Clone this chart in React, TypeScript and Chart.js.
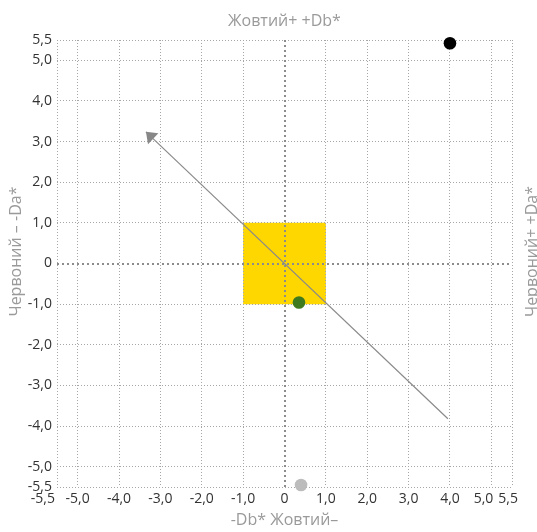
import React, { useEffect, useRef } from 'react';
import { Chart, registerables } from 'chart.js';

Chart.register(...registerables);

const tickValues = [-5.5, -5, -4, -3, -2, -1, 0, 1, 2, 3, 4, 5, 5.5];
const tickLabels = ['-5,5', '-5,0', '-4,0', '-3,0', '-2,0', '-1,0', '0', '1,0', '2,0', '3,0', '4,0', '5,0', '5,5'];

const squareX = [-1, -1, 1, 1, -1];
const squareY = [-1, 1, 1, -1, -1];

const arrowX = [3.95, -3.35];
const arrowY = [-3.82, 3.24];

const pointX = [4.0, 0.35, 0.4];
const pointY = [5.42, -0.96, -5.45];
const pointColors = ['#000000', '#3f7a1e', '#bcbcbc'];

const titleTop = 'Жовтий+ +Db*';
const titleBottom = '-Db* Жовтий–';
const titleLeft = 'Червоний – -Da*';
const titleRight = 'Червоний+ +Da*';

const FONT = '"Open Sans", "DejaVu Sans", sans-serif';
const GRID = '#a6a6a6';
const ZERO = '#8c8c8c';
const TITLE = '#9a9a9a';
const TICK = '#333333';

const zip = (xs: number[], ys: number[]) => xs.map((x, i) => ({ x, y: ys[i] }));

const overlayPlugin = {
  id: 'overlay',
  afterDatasetDraw(chart: any, args: any) {
    if (args.index !== 0) return;
    const { ctx, chartArea } = chart;
    const xs = chart.scales.x;
    const ys = chart.scales.y;
    // grid goes over the yellow square
    xs.drawGrid(chartArea);
    ys.drawGrid(chartArea);
    // zero lines
    ctx.save();
    ctx.strokeStyle = ZERO;
    ctx.lineWidth = 2;
    ctx.setLineDash([2, 3]);
    const x0 = Math.round(xs.getPixelForValue(0));
    const y0 = Math.round(ys.getPixelForValue(0));
    ctx.beginPath();
    ctx.moveTo(x0, chartArea.top);
    ctx.lineTo(x0, chartArea.bottom);
    ctx.moveTo(chartArea.left, y0);
    ctx.lineTo(chartArea.right, y0);
    ctx.stroke();
    ctx.restore();
  },
  afterDatasetsDraw(chart: any) {
    const { ctx } = chart;
    const meta = chart.getDatasetMeta(1);
    const n = meta.data.length;
    if (n < 2) return;
    const tip = meta.data[n - 1];
    const prev = meta.data[n - 2];
    const dx = tip.x - prev.x;
    const dy = tip.y - prev.y;
    const len = Math.hypot(dx, dy);
    const ux = dx / len;
    const uy = dy / len;
    const back = 10;
    const half = 7.5;
    const bx = tip.x - ux * back;
    const by = tip.y - uy * back;
    ctx.save();
    ctx.fillStyle = '#878787';
    ctx.beginPath();
    ctx.moveTo(tip.x, tip.y);
    ctx.lineTo(bx - uy * half, by + ux * half);
    ctx.lineTo(bx + uy * half, by - ux * half);
    ctx.closePath();
    ctx.fill();
    ctx.restore();
  },
  afterDraw(chart: any) {
    const { ctx, chartArea } = chart;
    const xs = chart.scales.x;
    ctx.save();
    // x tick labels
    ctx.fillStyle = TICK;
    ctx.font = `14px ${FONT}`;
    ctx.textBaseline = 'middle';
    const last = tickValues.length - 1;
    tickValues.forEach((v, i) => {
      const px = xs.getPixelForValue(v);
      let align: CanvasTextAlign = 'center';
      let off = 0;
      if (i === 0) { align = 'right'; off = -2; }
      else if (i === last) { align = 'right'; off = 6; }
      else if (i === last - 1) { align = 'right'; off = 2; }
      ctx.textAlign = align;
      ctx.fillText(tickLabels[i], px + off, chartArea.bottom + 12);
    });
    // titles
    ctx.fillStyle = TITLE;
    ctx.font = `16px ${FONT}`;
    ctx.textAlign = 'center';
    ctx.textBaseline = 'middle';
    const cx = (chartArea.left + chartArea.right) / 2;
    const cy = (chartArea.top + chartArea.bottom) / 2;
    ctx.fillText(titleTop, cx, 21);
    ctx.fillText(titleBottom, cx, 520);
    ctx.save();
    ctx.translate(16, cy - 12);
    ctx.rotate(-Math.PI / 2);
    ctx.fillText(titleLeft, 0, 0);
    ctx.restore();
    ctx.save();
    ctx.translate(532, cy - 12);
    ctx.rotate(-Math.PI / 2);
    ctx.fillText(titleRight, 0, 0);
    ctx.restore();
    ctx.restore();
  },
};

export default function App() {
  const ref = useRef<HTMLCanvasElement | null>(null);

  useEffect(() => {
    if (!ref.current) return;
    const gridColor = (c: any) => (c.tick && c.tick.value === 0 ? 'rgba(0,0,0,0)' : GRID);
    const chart = new Chart(ref.current, {
      type: 'scatter',
      data: {
        datasets: [
          {
            data: zip(squareX, squareY),
            showLine: true,
            fill: 'shape',
            backgroundColor: '#FFD700',
            borderWidth: 0,
            pointRadius: 0,
            order: 3,
          } as any,
          {
            data: zip(arrowX, arrowY),
            showLine: true,
            borderColor: '#8a8a8a',
            borderWidth: 1.2,
            pointRadius: 0,
            order: 2,
            clip: false,
          } as any,
          {
            data: zip(pointX, pointY),
            pointBackgroundColor: pointColors,
            pointBorderWidth: 0,
            pointRadius: 6.3,
            order: 1,
            clip: false,
          } as any,
        ],
      },
      options: {
        animation: false,
        responsive: false,
        devicePixelRatio: 1,
        layout: { padding: { top: 40, right: 25, left: 0, bottom: 0 } },
        plugins: { legend: { display: false }, tooltip: { enabled: false } },
        scales: {
          x: {
            type: 'linear',
            min: -5.5,
            max: 5.5,
            afterBuildTicks: (s: any) => { s.ticks = tickValues.map((value) => ({ value })); },
            afterFit: (s: any) => { s.height = 45; },
            ticks: { display: false },
            grid: { color: gridColor, lineWidth: 1, drawTicks: false },
            border: { display: false, dash: [1, 2] },
          },
          y: {
            type: 'linear',
            min: -5.5,
            max: 5.5,
            afterBuildTicks: (s: any) => { s.ticks = tickValues.map((value) => ({ value })); },
            afterFit: (s: any) => { s.width = 57; },
            ticks: {
              autoSkip: false,
              padding: 5,
              color: TICK,
              font: { family: FONT, size: 14 },
              callback: (v: any) => tickLabels[tickValues.indexOf(Number(v))] ?? '',
            },
            grid: { color: gridColor, lineWidth: 1, drawTicks: false },
            border: { display: false, dash: [1, 2] },
          },
        },
      } as any,
      plugins: [overlayPlugin],
    });
    return () => chart.destroy();
  }, []);

  return (
    <div style={{ position: 'absolute', left: 0, top: 0, width: 537, height: 532 }}>
      <canvas ref={ref} width={537} height={532} style={{ width: 537, height: 532 }} />
    </div>
  );
}
